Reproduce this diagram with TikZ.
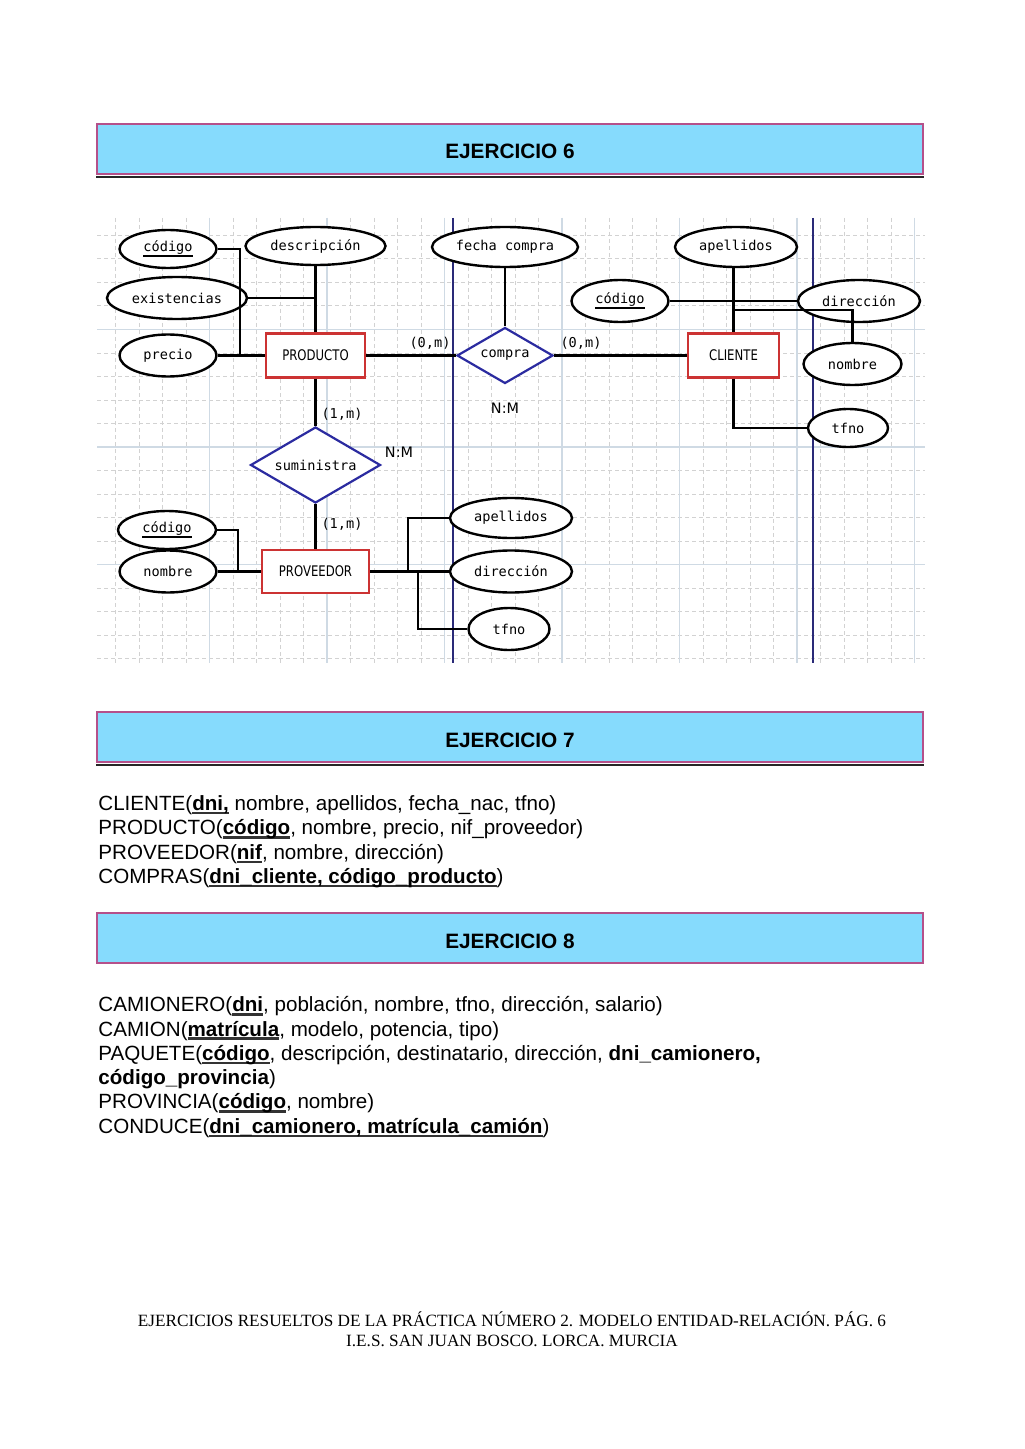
\documentclass[tikz,border=0pt]{standalone}
\usepackage{fontspec}
\setmainfont{Liberation Sans}
\newfontfamily\monof{DejaVu Sans Mono}
\newfontfamily\entf[FakeStretch=0.8]{DejaVu Sans}
\newfontfamily\nmf{DejaVu Sans}
\newfontfamily\footf{Liberation Serif}
\usetikzlibrary{shapes.geometric}
\definecolor{bannerfill}{HTML}{86DBFD}
\definecolor{bannerdraw}{HTML}{B5508A}
\definecolor{entred}{HTML}{CC3333}
\definecolor{relblue}{HTML}{2B2BA0}
\definecolor{gridmaj}{HTML}{CFDAE4}
\definecolor{gridmin}{HTML}{D2D2D2}
\definecolor{navyline}{HTML}{2A2A78}
\definecolor{ulgray}{HTML}{333333}
\newsavebox\ulbox
\newcommand\keyul[1]{\sbox\ulbox{#1}\rlap{\color{ulgray}\rule[-1.9pt]{\wd\ulbox}{1.2pt}}\usebox\ulbox}
\newcommand\attrul[1]{\sbox\ulbox{#1}\rlap{\rule[-2.75pt]{\wd\ulbox}{1pt}}\usebox\ulbox}
\tikzset{
  attr/.style={ellipse, draw=black, line width=1.2pt, fill=white, inner sep=0pt,
    font=\monof\fontsize{6.8pt}{8pt}\selectfont},
  ent/.style={rectangle, draw=entred, line width=1.1pt, fill=white, inner sep=0pt,
    font=\entf\fontsize{7.3pt}{8pt}\selectfont},
  rel/.style={diamond, aspect=1.7, draw=relblue, line width=1.1pt, fill=white, inner sep=0pt,
    font=\monof\fontsize{6.8pt}{8pt}\selectfont},
  conn/.style={draw=black, line width=1.2pt},
  card/.style={inner sep=0pt, font=\monof\fontsize{6.8pt}{8pt}\selectfont},
  nmlbl/.style={inner sep=0pt, font=\nmf\fontsize{7.2pt}{8pt}\selectfont},
  banner/.style={rectangle, draw=bannerdraw, line width=1pt, fill=bannerfill,
    minimum width=413pt, minimum height=25pt, inner sep=0pt,
    text height=10pt, text depth=0pt,
    font=\bfseries\fontsize{10.4pt}{13pt}\selectfont},
  shadowline/.style={draw=black!85, line width=0.8pt},
  body/.style={anchor=base west, inner sep=0pt, font=\fontsize{10.3pt}{12pt}\selectfont},
  foot/.style={anchor=base, inner sep=0pt, font=\footf\fontsize{8.6pt}{10pt}\selectfont},
  gridminor/.style={draw=gridmin, line width=0.5pt, dash pattern=on 2pt off 1.5pt},
  gridmajor/.style={draw=gridmaj, line width=0.6pt},
  sepline/.style={draw=navyline, line width=0.7pt}
}
\begin{document}
\begin{tikzpicture}[x=0.5pt,y=-0.5pt]
\useasboundingbox (0,0) rectangle (1024,1449);
\fill[white] (0,0) rectangle (1024,1449);

% ---------- banners ----------
\node[banner] (b6) at (510,149) {EJERCICIO 6};
\draw[shadowline] ([yshift=-1pt]b6.south west) -- ([yshift=-1pt]b6.south east);
\node[banner] (b7) at (510,737) {EJERCICIO 7};
\draw[shadowline] ([yshift=-1pt]b7.south west) -- ([yshift=-1pt]b7.south east);
\node[banner] (b8) at (510,938) {EJERCICIO 8};

% ---------- grid ----------
\begin{scope}
\clip (97,218) rectangle (925,663);
\foreach \k in {1,...,35} \draw[gridminor] ({92+23.5*\k},218) -- ({92+23.5*\k},663);
\foreach \k in {1,...,19} \draw[gridminor] (97,{212+23.5*\k}) -- (925,{212+23.5*\k});
\foreach \k in {1,...,7} \draw[gridmajor] ({92+117.5*\k},218) -- ({92+117.5*\k},663);
\foreach \k in {1,...,3} \draw[gridmajor] (97,{212+117.5*\k}) -- (925,{212+117.5*\k});
\end{scope}
\draw[sepline] (453,218) -- (453,663);
\draw[sepline] (813,218) -- (813,663);

% ---------- PRODUCTO ----------
\node[attr, minimum width=48.5pt, minimum height=19pt] (pcod) at (168,249) {\attrul{código}};
\node[attr, minimum width=70pt, minimum height=19pt] (pdesc) at (315.5,246) {descripción};
\node[attr, minimum width=70pt, minimum height=21pt] (pexi) at (177,298) {existencias};
\node[attr, minimum width=48.5pt, minimum height=21pt] (pprec) at (168,355.5) {precio};
\node[ent, minimum width=49.5pt, minimum height=22pt] (prod) at (315.5,355.5) {PRODUCTO};
\coordinate (pj) at (240,355.5);

% ---------- compra ----------
\node[attr, minimum width=73pt, minimum height=20pt] (fecha) at (505,247) {fecha compra};
\node[rel, minimum width=48pt, minimum height=28pt] (compra) at (505,355.5) {compra};

% ---------- CLIENTE ----------
\node[attr, minimum width=61pt, minimum height=20pt] (capel) at (736,247) {apellidos};
\node[attr, minimum width=48.5pt, minimum height=21pt] (ccod) at (620,301) {\attrul{código}};
\node[attr, minimum width=61pt, minimum height=21pt] (cdir) at (859,301) {dirección};
\node[attr, minimum width=49pt, minimum height=21pt] (cnom) at (852.5,364) {nombre};
\node[attr, minimum width=40pt, minimum height=19pt] (ctfno) at (848,428) {tfno};
\node[ent, minimum width=45.5pt, minimum height=22pt] (cli) at (733.5,355.5) {CLIENTE};
\coordinate (cj) at (733.5,310);

% ---------- suministra ----------
\node[rel, minimum width=65pt, minimum height=38pt] (sum) at (315.5,465) {suministra};

% ---------- PROVEEDOR ----------
\node[attr, minimum width=49pt, minimum height=19pt] (vcod) at (167,530) {\attrul{código}};
\node[attr, minimum width=48.5pt, minimum height=21pt] (vnom) at (168,571.5) {nombre};
\node[ent, minimum width=53.5pt, minimum height=21.5pt] (prov) at (315.5,571.5) {PROVEEDOR};
\node[attr, minimum width=61pt, minimum height=20pt] (vape) at (511,518) {apellidos};
\node[attr, minimum width=61pt, minimum height=21pt] (vdir) at (511,571.5) {dirección};
\node[attr, minimum width=40.5pt, minimum height=21pt] (vtfno) at (509,629) {tfno};
\coordinate (vj) at (238,571.5);
\coordinate (vj2) at (408,571.5);
\coordinate (vj3) at (418,571.5);

% ---------- connectors ----------
\draw[conn] (pcod.east) -| (pj);
\draw[conn] (pprec.east) -- (prod.west);
\draw[conn] (pexi.east) -- (pexi.east -| pdesc.south);
\draw[conn] (pdesc.south) -- (prod.north);
\draw[conn] (prod.east) -- (compra.west);
\draw[conn] (prod.south) -- (sum.north);
\draw[conn] (fecha.south) -- (compra.north);
\draw[conn] (compra.east) -- (cli.west);
\draw[conn] (capel.south -| cli.north) -- (cli.north);
\draw[conn] (ccod.east) -- (cdir.west);
\draw[conn] (cj) -| (cnom.north);
\draw[conn] (cli.south) |- (ctfno.west);
\draw[conn] (sum.south) -- (prov.north);
\draw[conn] (vcod.east) -| (vj);
\draw[conn] (vnom.east) -- (prov.west);
\draw[conn] (prov.east) -- (vdir.west);
\draw[conn] (vj2) |- (vape.west);
\draw[conn] (vj3) |- (vtfno.west);

% ---------- labels ----------
\node[card] (c1) at (430,343) {(0,m)};
\node[card] (c2) at (581,343) {(0,m)};
\node[card] (c3) at (342,414) {(1,m)};
\node[card] (c4) at (342,524) {(1,m)};
\node[nmlbl] (nm1) at (505,408) {N:M};
\node[nmlbl] (nm2) at (399,452) {N:M};

% ---------- EJERCICIO 7 text ----------
\node[body] (t71) at (98,810.5) {CLIENTE(\keyul{\textbf{dni,}} nombre, apellidos, fecha\_nac, tfno)};
\node[body] (t72) at (98,834.8) {PRODUCTO(\keyul{\textbf{código}}, nombre, precio, nif\_proveedor)};
\node[body] (t73) at (98,859.1) {PROVEEDOR(\keyul{\textbf{nif}}, nombre, dirección)};
\node[body] (t74) at (98,883.5) {COMPRAS(\keyul{\textbf{dni\_cliente, código\_producto}})};

% ---------- EJERCICIO 8 text ----------
\node[body] (t81) at (98,1011.7) {CAMIONERO(\keyul{\textbf{dni}}, población, nombre, tfno, dirección, salario)};
\node[body] (t82) at (98,1036) {CAMION(\keyul{\textbf{matrícula}}, modelo, potencia, tipo)};
\node[body] (t83) at (98,1060.3) {PAQUETE(\keyul{\textbf{código}}, descripción, destinatario, dirección, \textbf{dni\_camionero,}};
\node[body] (t84) at (98,1084.6) {\textbf{código\_provincia})};
\node[body] (t85) at (98,1108.9) {PROVINCIA(\keyul{\textbf{código}}, nombre)};
\node[body] (t86) at (98,1133.2) {CONDUCE(\keyul{\textbf{dni\_camionero, matrícula\_camión}})};

% ---------- footer ----------
\node[foot] (f1) at (512,1326) {EJERCICIOS RESUELTOS DE LA PRÁCTICA NÚMERO 2. MODELO ENTIDAD-RELACIÓN. PÁG. 6};
\node[foot] (f2) at (512,1346) {I.E.S. SAN JUAN BOSCO. LORCA. MURCIA};
\end{tikzpicture}
\end{document}
